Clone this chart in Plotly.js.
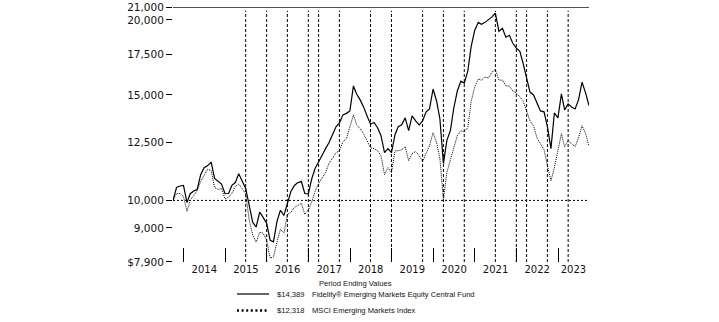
<!DOCTYPE html>
<html><head><meta charset="utf-8">
<script src="https://cdn.plot.ly/plotly-3.0.1.min.js"></script>
<style>html,body{margin:0;padding:0;background:#fff}#chart{width:719px;height:322px}</style>
</head><body><div id="chart"></div>
<script>
// ---- data ----
const startYear = 2013, startMonth = 9, monthCount = 121;   // Sep 2013 .. Sep 2023, month-end values
const fundName = "Fidelity® Emerging Markets Equity Central Fund";
const indexName = "MSCI Emerging Markets Index";
const fundValues = [
10000,10510,10570,10590,9920,10260,10370,10430,11040,11340,
11430,11580,10880,10770,10650,10260,10270,10590,10710,11080,
10750,10470,9810,9190,9030,9560,9370,9160,8580,8530,
9230,9630,9440,9890,10350,10590,10710,10750,10270,10260,
10880,11300,11560,11880,12200,12480,12870,13270,13470,13890,
13970,14100,15520,15050,14710,14320,13830,13400,13490,13220,
12820,12010,12200,12010,12870,13270,13370,13730,13070,13830,
13570,13370,13570,14050,14210,15340,14650,13680,11520,12580,
13070,14260,15220,15810,15690,16430,18080,19220,19810,19660,
19810,20000,20230,20530,19140,19360,18710,18850,18280,17940,
17730,16940,15940,15160,14990,14540,14100,14050,13270,12200,
13990,13730,15050,14160,14480,14320,14210,14710,15750,15110,
14389];
const indexValues = [
10000,10270,10270,10150,9590,10000,10190,10390,10750,11000,
11280,11210,10510,10430,10470,10060,10120,10270,10550,10650,
10470,10270,9265,8750,8520,8850,8820,8580,8010,8050,
8520,8950,8820,9480,9550,9740,9810,9890,9480,9630,
9960,10350,10670,10880,11130,11520,11780,12010,12100,12530,
12670,13320,13890,13370,13170,12920,12580,12240,12200,12100,
11880,11040,11340,11130,12100,12100,12150,12290,11650,11970,
12060,11880,11610,11970,12340,12970,12480,11740,10040,11130,
11740,12240,12820,13070,13010,13220,14650,15460,15940,15870,
16060,16000,16370,16520,15870,15870,15520,15520,15220,15110,
14880,14650,14100,13570,13320,12720,12430,12150,11430,10790,
11340,12100,12920,12290,12580,12430,12290,12720,13320,12920,
12318];
const yearLabels = ['2014','2015','2016','2017','2018','2019','2020','2021','2022','2023'];
const yearLabelDates = ['2014-07-02','2015-07-02','2016-07-02','2017-07-02','2018-07-02','2019-07-02','2020-07-02','2021-07-02','2022-07-02','2023-05-16'];
const yearBoundaryDates = ['2014-01-01','2015-01-01','2016-01-01','2017-01-01','2018-01-01','2019-01-01','2020-01-01','2021-01-01','2022-01-01','2023-01-01'];
const markerDates = ['2015-06-30','2015-12-31','2016-06-30','2016-12-31','2017-03-31','2017-09-30','2018-06-30','2018-12-31','2019-09-30','2020-03-31','2020-09-30','2021-06-30','2021-12-31','2022-03-31','2022-09-30','2023-03-31'];
const yTickVals = [7900, 9000, 10000, 12500, 15000, 17500, 20000, 21000];
const yTickText = ['$7,900','9,000','10,000','12,500','15,000','17,500','20,000','21,000'];
const baselineValue = 10000;
const topValue = 21000;
const legendTitle = 'Period Ending Values';

// month-end dates
const dates = [];
for (let i = 0; i < monthCount; i++) {
  const d = new Date(Date.UTC(startYear, startMonth - 1 + i + 1, 0));
  dates.push(d.toISOString().slice(0, 10));
}
const fmt = v => '$' + Math.round(v).toLocaleString('en-US');

// ---- layout geometry ----
const W = 719, H = 322, L = 173, R = 130, T = 7, B = 60;
const pw = W - L - R, ph = H - T - B;
const px = x => (x - L) / pw;
const py = y => (H - B - y) / ph;

const traces = [
  {x: dates, y: fundValues, type: 'scatter', mode: 'lines', name: fundName,
   line: {color: '#000', width: 1.2}, hoverinfo: 'skip'},
  {x: dates, y: indexValues, type: 'scatter', mode: 'lines', name: indexName,
   line: {color: '#000', width: 1, dash: '1px,1px'}, hoverinfo: 'skip'}
];

const shapes = [
  {type: 'line', xref: 'paper', yref: 'y', x0: 0, x1: 1, y0: topValue, y1: topValue,
   line: {color: '#000', width: 1}},
  {type: 'line', xref: 'paper', yref: 'y', x0: 0, x1: 1, y0: baselineValue, y1: baselineValue,
   line: {color: '#000', width: 1, dash: '2px,2px'}, layer: 'below'}
];
markerDates.forEach(d => shapes.push({type: 'line', xref: 'x', yref: 'paper', x0: d, x1: d, y0: 0, y1: 0.985,
  line: {color: '#000', width: 1, dash: '3px,2px'}, layer: 'below'}));
// legend samples
shapes.push({type: 'line', xref: 'paper', yref: 'paper', x0: px(237), x1: px(269), y0: py(294), y1: py(294),
  line: {color: '#000', width: 1.2}});
shapes.push({type: 'line', xref: 'paper', yref: 'paper', x0: px(237), x1: px(269), y0: py(310.5), y1: py(310.5),
  line: {color: '#000', width: 2.5, dash: '2px,2.6px'}});

const lf = {family: 'Liberation Sans, Arial, sans-serif', size: 7.6, color: '#111'};
const annotations = [
  {xref: 'paper', yref: 'paper', x: px(355), y: py(283), text: legendTitle, showarrow: false,
   xanchor: 'center', yanchor: 'middle', font: lf},
  {xref: 'paper', yref: 'paper', x: px(275), y: py(294), text: fmt(fundValues[fundValues.length - 1]), showarrow: false,
   xanchor: 'left', yanchor: 'middle', font: lf},
  {xref: 'paper', yref: 'paper', x: px(310), y: py(294), text: fundName, showarrow: false,
   xanchor: 'left', yanchor: 'middle', font: lf},
  {xref: 'paper', yref: 'paper', x: px(275), y: py(310.5), text: fmt(indexValues[indexValues.length - 1]), showarrow: false,
   xanchor: 'left', yanchor: 'middle', font: lf},
  {xref: 'paper', yref: 'paper', x: px(310), y: py(310.5), text: indexName, showarrow: false,
   xanchor: 'left', yanchor: 'middle', font: lf}
];

const layout = {
  width: W, height: H,
  margin: {l: L, r: R, t: T, b: B, pad: 0},
  paper_bgcolor: '#fff', plot_bgcolor: '#fff',
  showlegend: false,
  xaxis: {
    type: 'date', range: [dates[0], dates[dates.length - 1]],
    showgrid: false, zeroline: false, showline: false,
    tickmode: 'array', tickvals: yearLabelDates, ticktext: yearLabels, ticks: '',
    tickfont: {family: 'DejaVu Sans, sans-serif', size: 10, color: '#111'},
    minor: {tickmode: 'array', tickvals: yearBoundaryDates, ticks: 'inside', ticklen: 14,
            tickwidth: 1, tickcolor: '#000', showgrid: false}
  },
  yaxis: {
    type: 'log', range: [Math.log10(yTickVals[0]) - 0.0003, Math.log10(topValue) + 0.0003],
    showgrid: false, zeroline: false, showline: false,
    tickmode: 'array', tickvals: yTickVals, ticktext: yTickText,
    ticks: 'outside', ticklen: 6, tickwidth: 1, tickcolor: '#000',
    ticklabeloverflow: 'allow',
    tickfont: {family: 'DejaVu Sans, sans-serif', size: 10.5, color: '#111'}
  },
  shapes: shapes,
  annotations: annotations
};

Plotly.newPlot('chart', traces, layout, {staticPlot: true, displayModeBar: false});
</script>
</body></html>
